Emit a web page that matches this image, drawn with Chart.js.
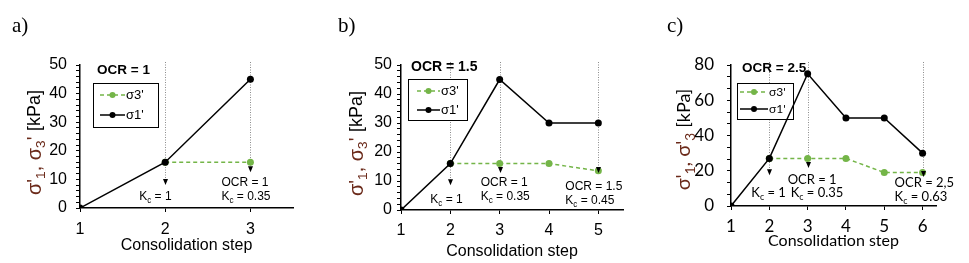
<!DOCTYPE html>
<html>
<head>
<meta charset="utf-8">
<script src="https://cdn.jsdelivr.net/npm/chart.js@4.4.0/dist/chart.umd.min.js"></script>
<style>
  body { margin: 0; background: #fff; }
  #wrap { position: relative; width: 969px; height: 263px; overflow: hidden; }
  .panel { position: absolute; top: 0; }
  .tag { position: absolute; top: 15px; font: 21px "Liberation Serif", serif; line-height: 21px; color: #000; }
</style>
</head>
<body>
<div id="wrap">
  <canvas class="panel" id="chartA" width="320" height="263" style="left:0"></canvas>
  <canvas class="panel" id="chartB" width="320" height="263" style="left:320px"></canvas>
  <canvas class="panel" id="chartC" width="329" height="263" style="left:640px"></canvas>
  <div class="tag" style="left:12px">a)</div>
  <div class="tag" style="left:338px">b)</div>
  <div class="tag" style="left:667px">c)</div>
</div>
<script>
/* Data: stress per consolidation step */
const stepsA = [1, 2, 3];
const sigma1A = [0, 16, 45];
const sigma3A = [null, 16, 16];
const arrowStepsA = [2, 3];
const arrowTipsA = [8, 12.5];

const stepsB = [1, 2, 3, 4, 5];
const sigma1B = [0, 16, 45, 30, 30];
const sigma3B = [null, 16, 16, 16, 13.5];
const arrowStepsB = [2, 3, 5];
const arrowTipsB = [8.5, 12.8, 12.8];

const stepsC = [1, 2, 3, 4, 5, 6];
const sigma1C = [0, 27, 75, 50, 50, 30];
const sigma3C = [null, 27, 27, 27, 19, 19];
const arrowStepsC = [2, 3, 6];
const arrowTipsC = [17.5, 21.5, 16.5];

const seriesLabels = ["σ1'", "σ3'"];
const GREEN = '#74b548';
const BROWN = '#6b2a1a';
const ARIAL = '"Liberation Sans", Arial, sans-serif';
const CALIBRI = 'Lato, "Liberation Sans", sans-serif';

/* split "K_c" style strings into normal / subscript pieces */
function richPieces(segs) {
    const out = [];
    segs.forEach(s => s.text.split(/_(.)/).forEach((t, i) => {
        if (t) out.push({t: t, sub: i % 2 === 1, c: s.color, size: s.size});
    }));
    return out;
}

function drawRich(ctx, segs, x, y, font, align) {
    const pieces = richPieces(segs);
    const fontOf = p => {
        const sz = p.size || font.size;
        return (font.weight || 'normal') + ' ' + (p.sub ? sz * 0.68 : sz) + 'px ' + font.family;
    };
    let total = 0;
    pieces.forEach(p => {
        ctx.font = fontOf(p);
        p.w = ctx.measureText(p.t).width;
        total += p.w;
    });
    let cx = align === 'center' ? x - total / 2 : x;
    ctx.textAlign = 'left';
    ctx.textBaseline = 'middle';
    pieces.forEach(p => {
        ctx.font = fontOf(p);
        ctx.fillStyle = p.c || '#000';
        ctx.fillText(p.t, cx, p.sub ? y + (p.size || font.size) * 0.32 : y);
        cx += p.w;
    });
}

function makePanel(id, p) {
    const points = arr => p.steps.map((s, i) => ({x: s, y: arr[i]}));

    const extras = {
        id: 'extras',
        beforeDatasetsDraw(chart) {
            const c = chart.ctx, xs = chart.scales.x, ys = chart.scales.y, a = chart.chartArea;
            c.save();
            /* dotted guide lines down to the arrows */
            c.strokeStyle = '#8c8c8c';
            c.lineWidth = 1;
            c.setLineDash([1, 1.5]);
            p.arrowSteps.forEach((s, i) => {
                const px = Math.round(xs.getPixelForValue(s)) + 0.5;
                c.beginPath();
                c.moveTo(px, a.top - 3);
                c.lineTo(px, ys.getPixelForValue(p.arrowTips[i]) - 4);
                c.stroke();
            });
            c.setLineDash([]);
            /* boxed legend */
            const L = p.legend;
            const lx = a.left + L.dx, ly = a.top + L.dy;
            c.fillStyle = '#fff';
            c.fillRect(lx, ly, L.w, L.h);
            c.strokeStyle = '#000';
            c.lineWidth = 1;
            c.strokeRect(lx + 0.5, ly + 0.5, L.w, L.h);
            [chart.data.datasets[1], chart.data.datasets[0]].forEach((ds, i) => {
                const ry = ly + L.rows[i];
                c.strokeStyle = ds.borderColor;
                c.lineWidth = 1.5;
                c.setLineDash(ds.borderDash || []);
                c.beginPath();
                c.moveTo(lx + L.lx0, ry);
                c.lineTo(lx + L.lx1, ry);
                c.stroke();
                c.setLineDash([]);
                c.fillStyle = ds.borderColor;
                c.beginPath();
                c.arc(lx + (L.lx0 + L.lx1) / 2, ry, 3, 0, Math.PI * 2);
                c.fill();
                c.font = L.size + 'px ' + p.font;
                c.textBaseline = 'middle';
                c.textAlign = 'left';
                c.fillStyle = '#000';
                c.fillText(ds.label, lx + L.lx1 + 1, ry);
            });
            c.restore();
        },
        afterDatasetsDraw(chart) {
            const c = chart.ctx, xs = chart.scales.x, ys = chart.scales.y, a = chart.chartArea;
            c.save();
            /* arrow heads */
            c.fillStyle = '#000';
            p.arrowSteps.forEach((s, i) => {
                const px = Math.round(xs.getPixelForValue(s)) + 0.5;
                const py = ys.getPixelForValue(p.arrowTips[i]);
                c.beginPath();
                c.moveTo(px - 2.5, py - 6);
                c.lineTo(px + 2.5, py - 6);
                c.lineTo(px, py);
                c.closePath();
                c.fill();
            });
            /* OCR heading */
            drawRich(c, [{text: p.ocr}], a.left + p.ocrPos[0], a.top + p.ocrPos[1],
                {size: p.ocrSize, family: ARIAL, weight: 'bold'}, 'left');
            /* notes under the arrows */
            p.notes.forEach(n => {
                drawRich(c, [{text: n.text}], xs.getPixelForValue(n.step) + n.dx, ys.getPixelForValue(n.at),
                    {size: p.noteSize, family: p.font}, 'left');
            });
            /* rotated y title */
            c.translate(a.left - p.titleDx, (a.top + a.bottom) / 2 + p.titleDy);
            c.rotate(-Math.PI / 2);
            drawRich(c, [{text: p.yTitle, color: BROWN, size: p.titleSize + 2}, {text: '[kPa]', color: '#000'}], 0, 0,
                {size: p.titleSize, family: p.font}, 'center');
            c.restore();
        }
    };

    return new Chart(document.getElementById(id), {
        type: 'line',
        data: {
            datasets: [{
                label: seriesLabels[0],
                data: points(p.s1),
                borderColor: '#000',
                backgroundColor: '#000',
                borderWidth: 1.5,
                pointRadius: 3.5,
                pointBorderWidth: 0
            }, {
                label: seriesLabels[1],
                data: points(p.s3),
                borderColor: GREEN,
                backgroundColor: GREEN,
                borderWidth: 1.5,
                borderDash: [4, 3],
                pointRadius: 3.5,
                pointBorderWidth: 0
            }]
        },
        options: {
            responsive: false,
            animation: false,
            spanGaps: false,
            layout: {padding: {left: 0, top: 65, right: p.padRight, bottom: 0}},
            plugins: {legend: {display: false}, tooltip: {enabled: false}},
            scales: {
                x: {
                    type: 'linear',
                    min: 1,
                    max: p.xMax,
                    afterFit: s => { s.height = p.xHeight; },
                    ticks: {
                        stepSize: 1,
                        includeBounds: false,
                        color: '#000',
                        padding: p.xTickPad,
                        font: {family: p.font, size: p.tickSize},
                        callback: v => Number.isInteger(v) ? v : ''
                    },
                    grid: {drawOnChartArea: false, tickLength: 4, color: '#000'},
                    border: {color: '#000', width: 1.5},
                    title: {
                        display: true,
                        text: 'Consolidation step',
                        color: '#000',
                        font: {family: p.font, size: 16},
                        padding: {top: 0, bottom: p.xTitlePad}
                    }
                },
                y: {
                    min: 0,
                    max: p.yMax,
                    afterFit: s => { s.width = p.yWidth; },
                    ticks: {
                        stepSize: p.yMinor,
                        autoSkip: false,
                        color: '#000',
                        padding: p.yTickPad,
                        font: {family: p.font, size: p.tickSize},
                        callback: v => Math.abs(v / p.yMajor - Math.round(v / p.yMajor)) < 1e-6 ? Math.round(v) : ''
                    },
                    grid: {drawOnChartArea: false, tickLength: 4, color: '#000'},
                    border: {color: '#000', width: 1.5}
                }
            }
        },
        plugins: [extras]
    });
}

makePanel('chartA', {
    steps: stepsA, s1: sigma1A, s3: sigma3A,
    arrowSteps: arrowStepsA, arrowTips: arrowTipsA,
    xMax: 3.5, yMax: 50, yMajor: 10, yMinor: 2,
    yWidth: 80, xHeight: 55, padRight: 27,
    xTickPad: 8, xTitlePad: 8, yTickPad: 9,
    font: ARIAL, tickSize: 16, noteSize: 12,
    ocr: 'OCR = 1', ocrPos: [17, 5], ocrSize: 13.5,
    legend: {dx: 13, dy: 18, w: 65, h: 44, rows: [12, 32], lx0: 7, lx1: 32, size: 13},
    notes: [
        {step: 2, at: 3.8, dx: -26, text: 'K_c = 1'},
        {step: 3, at: 8.7, dx: -29, text: 'OCR = 1'},
        {step: 3, at: 3.8, dx: -29, text: 'K_c = 0.35'}
    ],
    yTitle: "σ'_1, σ_3' ", titleDx: 45, titleDy: 6, titleSize: 18
});

makePanel('chartB', {
    steps: stepsB, s1: sigma1B, s3: sigma3B,
    arrowSteps: arrowStepsB, arrowTips: arrowTipsB,
    xMax: 5.5, yMax: 50, yMajor: 10, yMinor: 2,
    yWidth: 81, xHeight: 53, padRight: 17,
    xTickPad: 7, xTitlePad: 2, yTickPad: 5,
    font: ARIAL, tickSize: 16, noteSize: 12,
    ocr: 'OCR = 1.5', ocrPos: [10, 2], ocrSize: 14,
    legend: {dx: 7, dy: 14, w: 59, h: 41, rows: [12, 31], lx0: 9, lx1: 32, size: 13},
    notes: [
        {step: 2, at: 3.4, dx: -20, text: 'K_c = 1'},
        {step: 3, at: 9.3, dx: -19, text: 'OCR = 1'},
        {step: 3, at: 4.5, dx: -19, text: 'K_c = 0.35'},
        {step: 5, at: 7.9, dx: -33, text: 'OCR = 1.5'},
        {step: 5, at: 3.1, dx: -33, text: 'K_c = 0.45'}
    ],
    yTitle: "σ'_1, σ_3' ", titleDx: 44, titleDy: 6, titleSize: 18
});

makePanel('chartC', {
    steps: stepsC, s1: sigma1C, s3: sigma3C,
    arrowSteps: arrowStepsC, arrowTips: arrowTipsC,
    xMax: 6.35, yMax: 80, yMajor: 20, yMinor: 20 / 3,
    yWidth: 91, xHeight: 57, padRight: 33,
    xTickPad: 6, xTitlePad: 13, yTickPad: 13,
    font: CALIBRI, tickSize: 17, noteSize: 13,
    ocr: 'OCR = 2.5', ocrPos: [11, 3], ocrSize: 13.5,
    legend: {dx: 6, dy: 18, w: 56, h: 36, rows: [9, 26], lx0: 3, lx1: 31, size: 12},
    notes: [
        {step: 3, at: 14.8, dx: -20, text: 'OCR = 1'},
        {step: 2, at: 7.4, dx: -18, text: 'K_c = 1'},
        {step: 3, at: 7.4, dx: -17, text: 'K_c = 0.35'},
        {step: 6, at: 13, dx: -28, text: 'OCR = 2,5'},
        {step: 6, at: 5.1, dx: -28, text: 'K_c = 0.63'}
    ],
    yTitle: "σ'_1, σ'_3 ", titleDx: 47, titleDy: 4, titleSize: 18
});
</script>
</body>
</html>
